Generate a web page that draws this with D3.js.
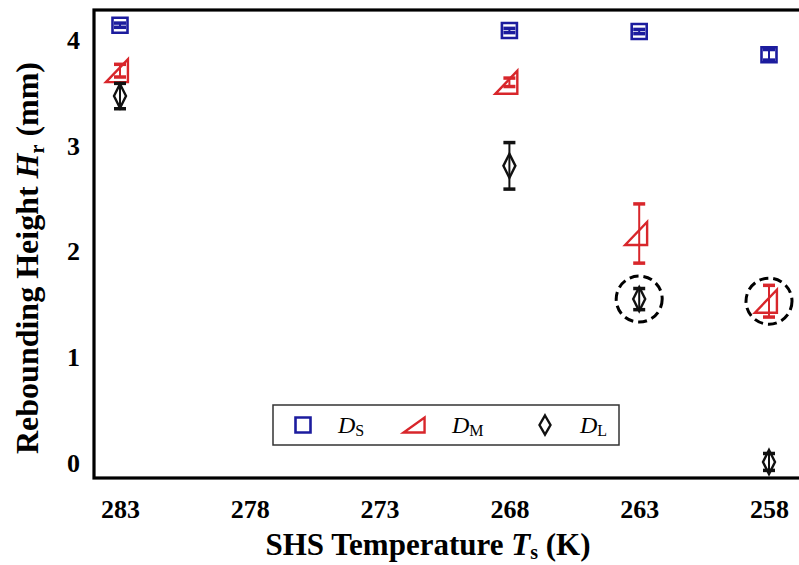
<!DOCTYPE html>
<html>
<head>
<meta charset="utf-8">
<script src="https://cdn.jsdelivr.net/npm/d3@7"></script>
<style>
  html, body { margin: 0; padding: 0; background: #fff; }
  svg { display: block; }
  text { font-family: "Liberation Serif", "Times New Roman", serif; }
</style>
</head>
<body>
<svg id="chart" width="799" height="565"></svg>
<script>
// Surface temperatures (K) at which rebound was measured
const temps = [283, 268, 263, 258];

// Rebounding height (mm) and error half-width for each droplet size
const dsVals = [4.14, 4.09, 4.08, 3.86];
const dsErr  = [0.02, 0.02, 0.02, 0.05];
const dmVals = [3.71, 3.60, 2.17, 1.53];
const dmErr  = [0.06, 0.04, 0.28, 0.15];
const dlVals = [3.47, 2.81, 1.55, 0.01];
const dlErr  = [0.12, 0.22, 0.10, 0.08];

// Axis tick labels
const xTicks = [283, 278, 273, 268, 263, 258];
const yTicks = [0, 1, 2, 3, 4];

// Points that are ringed with a dashed circle: [series, temperature]
const ringed = [["L", 263], ["M", 258]];

const svg = d3.select("#chart");

const frame = { left: 94, top: 10, right: 806, bottom: 478 };

const x = d3.scaleLinear().domain([283, 258]).range([120, 769]);
const y = d3.scaleLinear().domain([0, 4]).range([463, 40]);

const blue = "#1c1c9e", red = "#d8262b", black = "#111";

// marker shapes
const squarePath = s => `M${-s},${-s}H${s}V${s}H${-s}Z`;
const triPath = (w, h) => `M${-w * 0.64},${h / 2}H${w * 0.36}V${-h / 2}Z`;
const diamondPath = (w, h) => `M0,${-h / 2}L${w / 2},0L0,${h / 2}L${-w / 2},0Z`;

const series = [
  { key: "S", sub: "S", vals: dsVals, err: dsErr, color: blue,
    path: squarePath(7.5), legendPath: squarePath(7.5), sw: 2.6 },
  { key: "M", sub: "M", vals: dmVals, err: dmErr, color: red,
    path: triPath(22, 23), legendPath: triPath(21, 15), sw: 2.4 },
  { key: "L", sub: "L", vals: dlVals, err: dlErr, color: black,
    path: diamondPath(12, 24), legendPath: diamondPath(11, 19), sw: 2.4 }
];

// plot frame
svg.append("rect")
  .attr("x", frame.left).attr("y", frame.top)
  .attr("width", frame.right - frame.left)
  .attr("height", frame.bottom - frame.top)
  .attr("fill", "none").attr("stroke", "#000").attr("stroke-width", 3.2);

// axes (labels only, no tick marks)
const xAxis = svg.append("g")
  .attr("transform", `translate(0,${frame.bottom})`)
  .call(d3.axisBottom(x).tickValues(xTicks).tickFormat(d3.format("d"))
    .tickSize(0).tickPadding(22));
xAxis.select(".domain").remove();
xAxis.selectAll("text")
  .attr("font-family", "Liberation Serif").attr("font-size", 26)
  .attr("font-weight", "bold").attr("fill", "#000");

const yAxis = svg.append("g")
  .attr("transform", `translate(${frame.left},0)`)
  .call(d3.axisLeft(y).tickValues(yTicks).tickFormat(d3.format("d"))
    .tickSize(0).tickPadding(14));
yAxis.select(".domain").remove();
yAxis.selectAll("text")
  .attr("font-family", "Liberation Serif").attr("font-size", 26)
  .attr("font-weight", "bold").attr("fill", "#000");

// axis titles
const xTitle = svg.append("text")
  .attr("x", 428).attr("y", 555)
  .attr("text-anchor", "middle")
  .attr("font-size", 31).attr("font-weight", "bold");
xTitle.append("tspan").text("SHS Temperature ");
xTitle.append("tspan").attr("font-style", "italic").text("T");
xTitle.append("tspan").attr("font-size", 20).attr("dy", 4).text("s");
xTitle.append("tspan").attr("dy", -4).text(" (K)");

const yTitle = svg.append("text")
  .attr("transform", "translate(38,258) rotate(-90)")
  .attr("text-anchor", "middle")
  .attr("font-size", 32).attr("font-weight", "bold");
yTitle.append("tspan").text("Rebounding Height ");
yTitle.append("tspan").attr("font-style", "italic").text("H");
yTitle.append("tspan").attr("font-size", 20).attr("dy", 6).text("r");
yTitle.append("tspan").attr("dy", -6).text(" (mm)");

// data: error bars and markers
const plot = svg.append("g");
series.forEach(s => {
  const pts = temps.map((t, i) => ({ t, v: s.vals[i], e: s.err[i] }));
  const g = plot.append("g");
  const eb = g.selectAll(".eb").data(pts).join("g")
    .attr("stroke", s.color).attr("fill", "none");
  eb.append("line")
    .attr("x1", d => x(d.t)).attr("x2", d => x(d.t))
    .attr("y1", d => y(d.v + d.e)).attr("y2", d => y(d.v - d.e))
    .attr("stroke-width", 2);
  [1, -1].forEach(sign => {
    eb.append("line")
      .attr("x1", d => x(d.t) - 6).attr("x2", d => x(d.t) + 6)
      .attr("y1", d => y(d.v + sign * d.e)).attr("y2", d => y(d.v + sign * d.e))
      .attr("stroke-width", 3.5);
  });
  g.selectAll(".mk").data(pts).join("path")
    .attr("d", s.path)
    .attr("transform", d => `translate(${x(d.t)},${y(d.v)})`)
    .attr("fill", "none").attr("stroke", s.color)
    .attr("stroke-width", s.sw).attr("stroke-linejoin", "miter");
});

// dashed rings around highlighted points
ringed.forEach(([key, t]) => {
  const s = series.find(q => q.key === key);
  const i = temps.indexOf(t);
  svg.append("circle")
    .attr("cx", x(t)).attr("cy", y(s.vals[i])).attr("r", 23)
    .attr("fill", "none").attr("stroke", "#000")
    .attr("stroke-width", 3).attr("stroke-dasharray", "9,5");
});

// legend
const legend = svg.append("g");
legend.append("rect")
  .attr("x", 273).attr("y", 405).attr("width", 346).attr("height", 40)
  .attr("fill", "#fff").attr("stroke", "#333").attr("stroke-width", 1.5);
const legendX = [303, 417, 545];
series.forEach((s, i) => {
  legend.append("path")
    .attr("d", s.legendPath)
    .attr("transform", `translate(${legendX[i]},425)`)
    .attr("fill", "none").attr("stroke", s.color).attr("stroke-width", s.sw);
  const t = legend.append("text")
    .attr("x", legendX[i] + 35).attr("y", 433)
    .attr("font-size", 24);
  t.append("tspan").attr("font-style", "italic").text("D");
  t.append("tspan").attr("font-size", 16).attr("dy", 3).text(s.sub);
});
</script>
</body>
</html>
